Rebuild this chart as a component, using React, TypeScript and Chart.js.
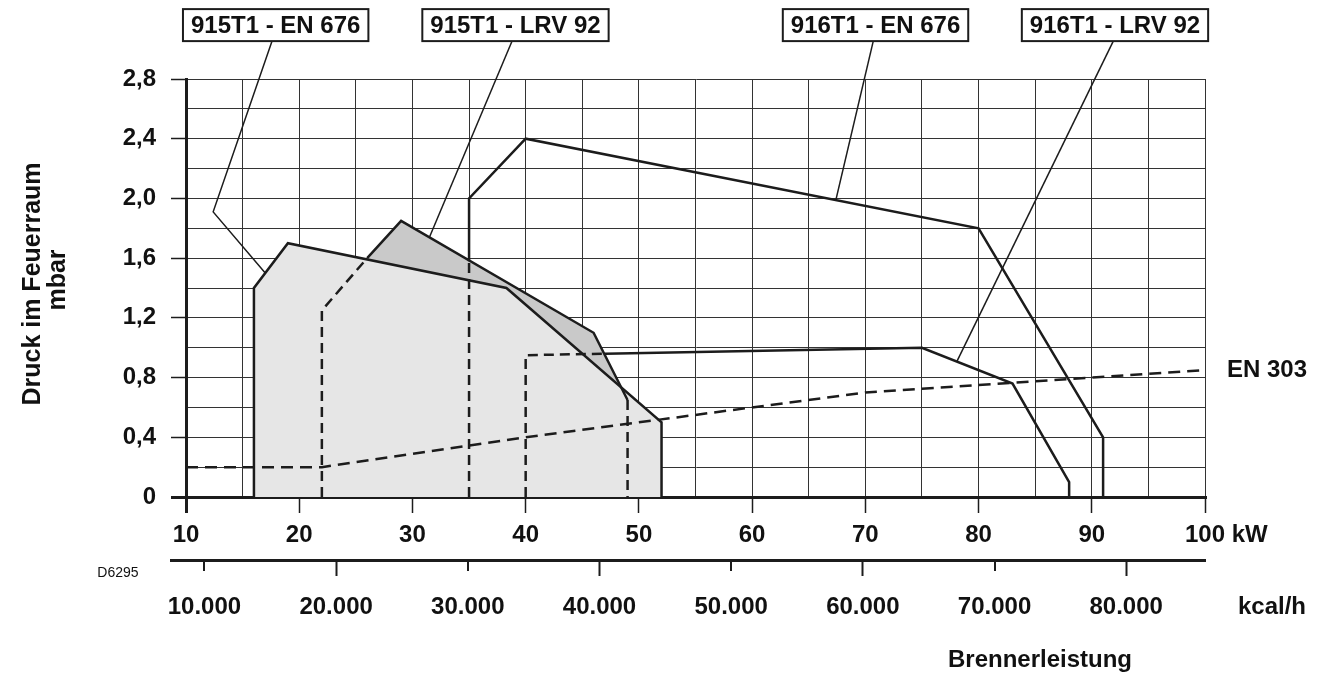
import React, { useEffect, useRef } from 'react';
import { Chart, registerables } from 'chart.js';

Chart.register(...registerables);

const FONT_FAMILY = "'Liberation Sans', Arial, Helvetica, sans-serif";

// ---- axes ----
const kwMin = 10;
const kwMax = 100;
const mbarMin = 0;
const mbarMax = 2.8;
const kcalPerKw = 859.845;

const kwGridValues = [10, 15, 20, 25, 30, 35, 40, 45, 50, 55, 60, 65, 70, 75, 80, 85, 90, 95, 100];
const kwLabelValues = [10, 20, 30, 40, 50, 60, 70, 80, 90, 100];
const mbarGridValues = [0, 0.2, 0.4, 0.6, 0.8, 1.0, 1.2, 1.4, 1.6, 1.8, 2.0, 2.2, 2.4, 2.6, 2.8];
const mbarLabelValues = [0, 0.4, 0.8, 1.2, 1.6, 2.0, 2.4, 2.8];
const kcalTickValues = [10000, 20000, 30000, 40000, 50000, 60000, 70000, 80000];
const kcalLongTickValues = [20000, 40000, 60000, 80000];

// ---- 915T1 - EN 676 working field ----
const en676_915_kw = [16, 16, 19, 38.3, 52, 52];
const en676_915_mbar = [0, 1.4, 1.7, 1.4, 0.5, 0];

// ---- 915T1 - LRV 92 working field ----
const lrv92_915_kw = [22, 22, 26, 29, 46, 49, 49];
const lrv92_915_mbar = [0, 1.25, 1.6, 1.85, 1.1, 0.65, 0];
const lrv92_915_dashedSegments = [0, 1, 5];

// ---- 916T1 - EN 676 working field ----
const en676_916_kw = [35, 35, 35, 40, 80, 91, 91];
const en676_916_mbar = [0, 1.58, 2.0, 2.4, 1.8, 0.4, 0];
const en676_916_dashedSegments = [0];

// ---- 916T1 - LRV 92 working field ----
const lrv92_916_kw = [40, 40, 47, 75, 83, 88, 88];
const lrv92_916_mbar = [0, 0.95, 0.96, 1.0, 0.76, 0.1, 0];
const lrv92_916_dashedSegments = [0, 1];

// ---- EN 303 limit ----
const en303_kw = [10, 22, 40, 70, 100];
const en303_mbar = [0.2, 0.2, 0.4, 0.7, 0.85];

// ---- labels & leader lines ----
const labelTexts = ['915T1 - EN 676', '915T1 - LRV 92', '916T1 - EN 676', '916T1 - LRV 92'];
const labelBoxKw = [17.92, 39.1, 70.9, 92.05];
const labelBoxMbar = 3.161;
const leader1_kw = [17.6, 12.4, 17];
const leader1_mbar = [3.054, 1.91, 1.5];
const leader2_kw = [38.8, 31.5];
const leader2_mbar = [3.054, 1.74];
const leader3_kw = [70.7, 67.4];
const leader3_mbar = [3.054, 1.99];
const leader4_kw = [91.9, 78.1];
const leader4_mbar = [3.054, 0.91];

const en303Label = 'EN 303';
const en303LabelKw = 100;
const en303LabelMbar = 0.845;

const pts = (xs: number[], ys: number[]) => xs.map((x, i) => ({ x, y: ys[i] }));
const isLabelMbar = (v: number) => mbarLabelValues.some((l) => Math.abs(l - v) < 1e-6);
const fmtMbar = (v: number) => (Math.abs(v) < 1e-9 ? '0' : v.toFixed(1).replace('.', ','));
const fmtKcal = (v: number) => `${Math.round(v / 1000)}.000`;

const LINE = '#1c1c1c';
const GRID = '#333';
const DASH = [10, 6];
const DASH_EN303 = [12, 7];

function outline(label: string, xs: number[], ys: number[], dashed: number[], allDash = false) {
  const dash = allDash ? DASH_EN303 : DASH;
  return {
    label,
    data: pts(xs, ys),
    xAxisID: 'x',
    yAxisID: 'y',
    borderColor: LINE,
    borderWidth: 2.5,
    // a non-empty dataset dash keeps Chart.js off its fast path, which
    // would redraw vertical segments several times
    borderDash: dash,
    pointRadius: 0,
    fill: false,
    tension: 0,
    order: 2,
    segment: {
      borderDash: (c: any) => (allDash || dashed.includes(c.p0DataIndex) ? dash : []),
    },
  };
}

function area(label: string, xs: number[], ys: number[], color: string, order: number) {
  return {
    label,
    data: pts(xs, ys),
    xAxisID: 'x',
    yAxisID: 'y',
    borderColor: 'rgba(0,0,0,0)',
    borderWidth: 1,
    backgroundColor: color,
    pointRadius: 0,
    fill: 'origin',
    tension: 0,
    order,
  };
}

function leader(xs: number[], ys: number[]) {
  return {
    label: 'leader',
    data: pts(xs, ys),
    xAxisID: 'x',
    yAxisID: 'y',
    borderColor: LINE,
    borderWidth: 1.5,
    pointRadius: 0,
    fill: false,
    tension: 0,
    clip: false,
    order: 1,
  };
}

const font = (size: number, weight = 'bold') => `${weight} ${size}px ${FONT_FAMILY}`;

const annotations = {
  id: 'annotations',
  afterDraw(chart: any) {
    const { ctx, chartArea } = chart;
    const xs = chart.scales.x;
    const ys = chart.scales.y;
    const ks = chart.scales.kcal;
    ctx.save();

    // label boxes
    ctx.font = font(24);
    labelTexts.forEach((t, i) => {
      const cx = xs.getPixelForValue(labelBoxKw[i]);
      const cy = ys.getPixelForValue(labelBoxMbar);
      const w = ctx.measureText(t).width + 16;
      const h = 32;
      ctx.fillStyle = '#fff';
      ctx.fillRect(cx - w / 2, cy - h / 2, w, h);
      ctx.lineWidth = 2;
      ctx.strokeStyle = LINE;
      ctx.strokeRect(cx - w / 2, cy - h / 2, w, h);
      ctx.fillStyle = '#111';
      ctx.textAlign = 'center';
      ctx.textBaseline = 'middle';
      ctx.fillText(t, cx, cy + 1);
    });

    // EN 303 label
    ctx.textAlign = 'left';
    ctx.textBaseline = 'middle';
    ctx.fillText(en303Label, xs.getPixelForValue(en303LabelKw) + 22, ys.getPixelForValue(en303LabelMbar));

    // kW unit after the 100 tick label
    const p100 = xs.getPixelForValue(kwMax);
    const kwLabelY = chartArea.bottom + 16 + 8 + 14.4;
    ctx.fillText('kW', p100 + ctx.measureText('100').width / 2 + ctx.measureText(' ').width, kwLabelY);

    // kcal/h unit
    const kcalLabelY = ks.top + 16 + 17 + 14.4;
    ctx.textAlign = 'center';
    ctx.fillText('kcal/h', 1272, kcalLabelY);

    // kcal axis line extension to the left and short ticks
    ctx.strokeStyle = LINE;
    ctx.lineWidth = 3;
    ctx.beginPath();
    ctx.moveTo(ks.left - 16, ks.top + 0.5);
    ctx.lineTo(ks.left + 2, ks.top + 0.5);
    ctx.stroke();
    ctx.lineWidth = 2;
    kcalTickValues
      .filter((v) => !kcalLongTickValues.includes(v))
      .forEach((v) => {
        const px = Math.round(ks.getPixelForValue(v));
        ctx.beginPath();
        ctx.moveTo(px, ks.top);
        ctx.lineTo(px, ks.top + 11);
        ctx.stroke();
      });

    // x title
    ctx.fillStyle = '#111';
    ctx.font = font(24);
    ctx.textAlign = 'center';
    ctx.fillText('Brennerleistung', 1040, 660);

    // y title (two rotated lines)
    ctx.font = font(25);
    ctx.textBaseline = 'alphabetic';
    ctx.save();
    ctx.translate(40, (chartArea.top + chartArea.bottom) / 2 - 4);
    ctx.rotate(-Math.PI / 2);
    ctx.fillText('Druck im Feuerraum', 0, 0);
    ctx.restore();
    ctx.save();
    ctx.translate(65, (chartArea.top + chartArea.bottom) / 2 - 8);
    ctx.rotate(-Math.PI / 2);
    ctx.fillText('mbar', 0, 0);
    ctx.restore();

    // drawing number
    ctx.font = font(14, 'normal');
    ctx.textBaseline = 'middle';
    ctx.textAlign = 'center';
    ctx.fillText('D6295', 118, 573);

    ctx.restore();
  },
};

export default function App() {
  const canvasRef = useRef<HTMLCanvasElement | null>(null);

  useEffect(() => {
    const canvas = canvasRef.current;
    if (!canvas) return;
    const tickFont = { family: FONT_FAMILY, size: 24, weight: 'bold' as const };

    const chart = new Chart(canvas, {
      type: 'line',
      data: {
        datasets: [
          leader(leader1_kw, leader1_mbar),
          leader(leader2_kw, leader2_mbar),
          leader(leader3_kw, leader3_mbar),
          leader(leader4_kw, leader4_mbar),
          outline('915T1 - EN 676', en676_915_kw, en676_915_mbar, []),
          outline('915T1 - LRV 92', lrv92_915_kw, lrv92_915_mbar, lrv92_915_dashedSegments),
          outline('916T1 - EN 676', en676_916_kw, en676_916_mbar, en676_916_dashedSegments),
          outline('916T1 - LRV 92', lrv92_916_kw, lrv92_916_mbar, lrv92_916_dashedSegments),
          outline('EN 303', en303_kw, en303_mbar, [], true),
          area('915T1 - EN 676 area', en676_915_kw, en676_915_mbar, '#e6e6e6', 9),
          area('915T1 - LRV 92 area', lrv92_915_kw, lrv92_915_mbar, '#c9c9c9', 10),
        ] as any,
      },
      options: {
        animation: false,
        responsive: false,
        devicePixelRatio: 1,
        events: [],
        layout: { padding: { top: 79, right: 121, left: 0, bottom: 0 } },
        plugins: {
          legend: { display: false },
          tooltip: { enabled: false },
          title: { display: false },
        },
        scales: {
          x: {
            type: 'linear',
            axis: 'x',
            position: 'bottom',
            min: kwMin,
            max: kwMax,
            z: 1,
            weight: 0,
            afterBuildTicks: (s: any) => {
              s.ticks = kwGridValues.map((v) => ({ value: v }));
            },
            afterFit: (s: any) => {
              s.height = 63;
            },
            grid: {
              color: GRID,
              lineWidth: (c: any) => (c.tick && c.tick.value === kwMin ? 3 : 1),
              tickLength: 16,
              tickWidth: (c: any) => (c.tick && c.tick.value === kwMin ? 3 : 1.5),
              tickColor: (c: any) =>
                c.tick && kwLabelValues.includes(c.tick.value) ? LINE : 'rgba(0,0,0,0)',
            },
            border: { display: true, color: LINE, width: 3 },
            ticks: {
              autoSkip: false,
              maxRotation: 0,
              padding: 8,
              color: '#111',
              font: tickFont,
              callback: (v: any) => (kwLabelValues.includes(v) ? String(v) : ''),
            },
          },
          kcal: {
            type: 'linear',
            axis: 'x',
            position: 'bottom',
            min: kwMin * kcalPerKw,
            max: kwMax * kcalPerKw,
            z: 1,
            weight: 1,
            afterBuildTicks: (s: any) => {
              s.ticks = kcalTickValues.map((v) => ({ value: v }));
            },
            afterFit: (s: any) => {
              s.height = 115;
            },
            grid: {
              drawOnChartArea: false,
              tickLength: 16,
              tickWidth: 2,
              tickColor: (c: any) =>
                c.tick && kcalLongTickValues.includes(c.tick.value) ? LINE : 'rgba(0,0,0,0)',
            },
            border: { display: true, color: LINE, width: 3 },
            ticks: {
              autoSkip: false,
              maxRotation: 0,
              padding: 17,
              color: '#111',
              font: tickFont,
              callback: (v: any) => fmtKcal(v),
            },
          },
          y: {
            type: 'linear',
            axis: 'y',
            position: 'left',
            min: mbarMin,
            max: mbarMax,
            z: 1,
            afterBuildTicks: (s: any) => {
              s.ticks = mbarGridValues.map((v) => ({ value: v }));
            },
            afterFit: (s: any) => {
              s.width = 186;
            },
            grid: {
              color: GRID,
              lineWidth: (c: any) => (c.tick && c.tick.value === mbarMin ? 3 : 1),
              tickLength: 15,
              tickWidth: (c: any) => (c.tick && c.tick.value === mbarMin ? 3 : 1.5),
              tickColor: (c: any) => (c.tick && isLabelMbar(c.tick.value) ? LINE : 'rgba(0,0,0,0)'),
            },
            border: { display: true, color: LINE, width: 3 },
            ticks: {
              autoSkip: false,
              padding: 15,
              color: '#111',
              font: tickFont,
              callback: (v: any) => (isLabelMbar(v) ? fmtMbar(v) : ''),
            },
          },
        },
      } as any,
      plugins: [annotations],
    });

    return () => chart.destroy();
  }, []);

  return (
    <div style={{ position: 'absolute', left: 0, top: 0, width: 1326, height: 675, background: '#fff' }}>
      <canvas ref={canvasRef} width={1326} height={675} style={{ display: 'block' }} />
    </div>
  );
}
